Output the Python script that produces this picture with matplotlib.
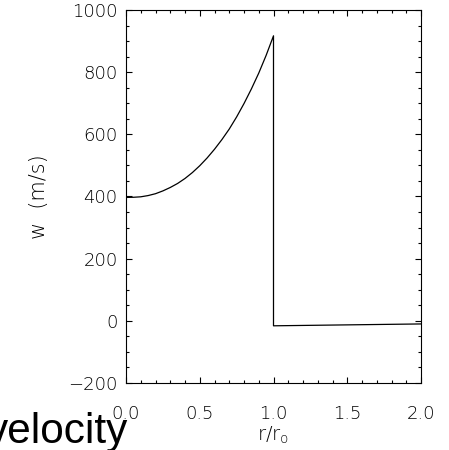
import numpy as np
import matplotlib
matplotlib.use("Agg")
import matplotlib.pyplot as plt
from matplotlib.ticker import MultipleLocator

# inner region r/r0 = 0 .. 1
r_in = [0.0, 0.05, 0.1, 0.15, 0.2, 0.25, 0.3, 0.35, 0.4, 0.45, 0.5,
        0.55, 0.6, 0.65, 0.7, 0.75, 0.8, 0.85, 0.9, 0.95, 1.0]
w_in = [397, 397.5, 399, 403, 409, 418, 429, 442, 458, 477, 499,
        524, 552, 583, 617, 656, 699, 746, 797, 854, 917]
# outer region after the jump
r_out = [1.0, 2.0]
w_out = [-16, -10]

plt.rcParams['font.family'] = 'DejaVu Sans'
plt.rcParams['font.weight'] = 'light'
plt.rcParams['axes.labelweight'] = 'light'

fig = plt.figure(figsize=(4.49, 4.50), dpi=100)
ax = fig.add_axes([126 / 449, 67 / 450, 295 / 449, 373 / 450])

r = r_in + r_out
w = w_in + w_out
ax.plot(r, w, color='black', lw=0.9)

ax.set_xlim(0, 2)
ax.set_ylim(-200, 1000)
ax.xaxis.set_major_locator(MultipleLocator(0.5))
ax.xaxis.set_minor_locator(MultipleLocator(0.1))
ax.yaxis.set_major_locator(MultipleLocator(200))
ax.yaxis.set_minor_locator(MultipleLocator(50))
ax.tick_params(which='both', direction='in', top=True, right=True,
               width=0.8, labelsize=13, colors='black')
ax.tick_params(which='major', length=4.3)
ax.tick_params(which='minor', length=2.4)
ax.tick_params(axis='x', pad=16)
ax.tick_params(axis='y', pad=6)
ax.set_yticks([-200, 0, 200, 400, 600, 800, 1000])
ax.set_yticklabels(["\u2212200", "0", "200", "400", "600", "800", "1000"])
for s in ax.spines.values():
    s.set_linewidth(0.8)

ax.set_xlabel(r"r/r$_{\rm o}$", fontsize=14, labelpad=1, fontweight='light')
ax.set_ylabel("w  (m/s)", fontsize=15, labelpad=14, fontweight='light')

fig.text(128 / 449, 7 / 450, "velocity", fontsize=30.5,
         family='Liberation Sans', weight='normal', ha='right', va='baseline')

fig.savefig("out.png", dpi=100)
